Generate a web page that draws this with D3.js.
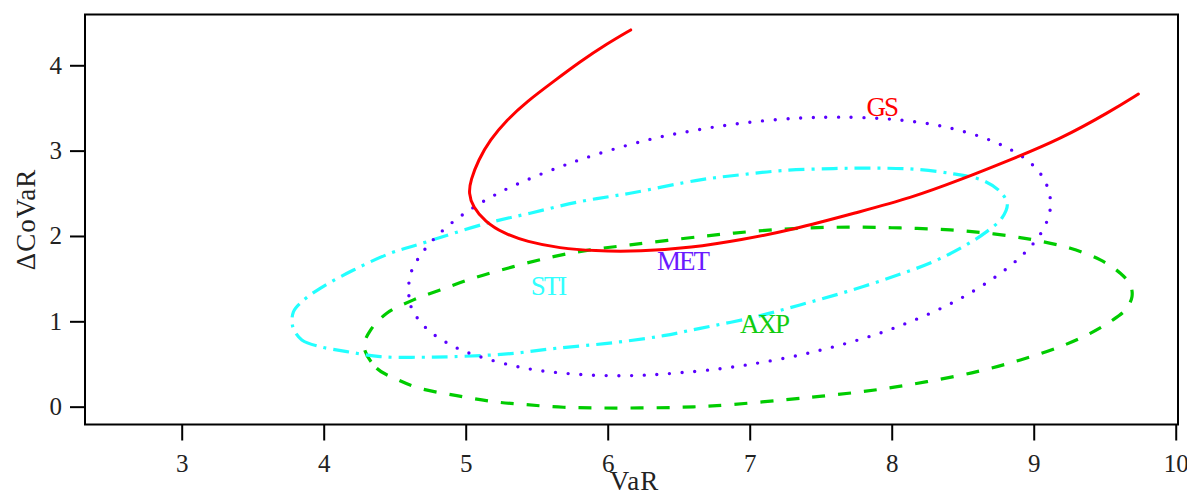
<!DOCTYPE html>
<html lang="en">
<head>
	<meta charset="utf-8">
	<title>VaR vs Delta CoVaR</title>
	<script type="text/javascript" src="https://cdn.jsdelivr.net/npm/d3@7/dist/d3.min.js" charset="utf-8"></script>
	<style type="text/css">
		body { margin: 0; background: #fff; }
		.axis path,
		.axis line {
		    fill: none;
		    stroke: black;
		    stroke-width: 2px;
		}
		.axis text {
		    font-family: "Liberation Serif", "DejaVu Serif", serif;
		    font-size: 25px;
		    fill: #222;
		}
		.title {
		    font-family: "Liberation Serif", "DejaVu Serif", serif;
		    font-size: 27px;
		    fill: #222;
		}
		.curve_label {
		    font-family: "Liberation Serif", "DejaVu Serif", serif;
		    font-size: 27px;
		    letter-spacing: -2px;
		}
	</style>
</head>
<body>
<script type="text/javascript">

// Tick values
var xTicks = [3, 4, 5, 6, 7, 8, 9, 10];
var yTicks = [0, 1, 2, 3, 4];

// GS: open curve (VaR, dCoVaR)
var gsVaR   = [6.162, 5.993, 5.805, 5.617, 5.430, 5.289, 5.171, 5.089, 5.035, 5.020, 5.050, 5.136,
               5.265, 5.430, 5.664, 5.899, 6.228, 6.590, 6.940, 7.300, 7.777, 8.129, 8.481, 8.833,
               9.185, 9.537, 9.737];
var gsCoVaR = [4.414, 4.250, 4.042, 3.808, 3.574, 3.359, 3.125, 2.890, 2.656, 2.500, 2.343, 2.168,
               2.032, 1.933, 1.856, 1.824, 1.818, 1.862, 1.955, 2.070, 2.285, 2.442, 2.656, 2.890,
               3.133, 3.456, 3.664];

// MET: closed contour
var metVaR   = [4.600, 4.615, 4.718, 4.866, 5.030, 5.387, 5.753, 6.121, 6.485, 6.943, 7.483, 8.011,
                8.516, 8.891, 9.067, 9.119, 9.072, 8.951, 8.711, 8.364, 7.993, 7.624, 7.342, 6.979,
                6.627, 6.262, 5.734, 5.229, 4.912, 4.718, 4.620];
var metCoVaR = [1.446, 1.172, 0.926, 0.750, 0.625, 0.461, 0.383, 0.363, 0.394, 0.480, 0.656, 0.918,
                1.297, 1.731, 2.078, 2.375, 2.665, 2.891, 3.110, 3.282, 3.368, 3.392, 3.380, 3.329,
                3.242, 3.117, 2.852, 2.501, 2.167, 1.856, 1.594];

// STI: closed contour
var stiVaR   = [3.782, 3.846, 3.975, 4.163, 4.398, 4.679, 4.914, 5.290, 5.642, 6.041, 6.393, 6.651,
                7.027, 7.354, 7.683, 8.011, 8.293, 8.504, 8.669, 8.775, 8.814, 8.763, 8.645, 8.434,
                8.152, 7.870, 7.589, 7.237, 6.931, 6.651, 6.158, 5.806, 5.454, 5.149, 4.679, 4.468,
                4.210, 3.975, 3.846, 3.787];
var stiCoVaR = [0.937, 0.782, 0.703, 0.645, 0.586, 0.579, 0.586, 0.618, 0.685, 0.750, 0.832, 0.918,
                1.047, 1.192, 1.348, 1.524, 1.699, 1.875, 2.051, 2.208, 2.376, 2.520, 2.649, 2.728,
                2.783, 2.795, 2.790, 2.767, 2.716, 2.658, 2.501, 2.403, 2.267, 2.149, 1.907, 1.797,
                1.601, 1.387, 1.230, 1.112];

// AXP: closed contour
var axpVaR   = [4.284, 4.373, 4.514, 4.678, 4.937, 5.195, 5.430, 5.688, 5.946, 6.228, 6.510, 6.768,
                7.238, 7.590, 7.919, 8.248, 8.600, 8.906, 9.187, 9.398, 9.539, 9.645, 9.692, 9.680,
                9.610, 9.469, 9.258, 8.999, 8.718, 8.412, 8.060, 7.708, 7.356, 7.004, 6.651, 6.158,
                5.877, 5.618, 5.336, 5.054, 4.820, 4.632, 4.444, 4.331];
var axpCoVaR = [0.703, 0.450, 0.321, 0.215, 0.129, 0.059, 0.023, -0.007, -0.015, -0.015, -0.007, 0.012,
                0.079, 0.137, 0.204, 0.293, 0.410, 0.547, 0.703, 0.859, 0.996, 1.133, 1.289, 1.426,
                1.563, 1.719, 1.856, 1.954, 2.024, 2.071, 2.094, 2.103, 2.091, 2.051, 1.993, 1.895,
                1.837, 1.758, 1.641, 1.505, 1.368, 1.251, 1.094, 0.899];

// Curve label names and anchor positions (data units)
var labelNames = ["GS", "MET", "STI", "AXP"];
var labelVaR   = [7.93, 6.527, 5.58, 7.10];
var labelCoVaR = [3.41, 1.60, 1.31, 0.86];

//Width and height
var outer_width = 1187;
var outer_height = 495;
var plot = {left: 85, right: 1178, top: 14.5, bottom: 424.5};

var svg = d3.select("body")
		.append("svg")
		.attr("width", outer_width)
		.attr("height", outer_height);

var xScale = d3.scaleLinear()
		.domain([2.319, 10.016])
		.range([plot.left, plot.right]);

var yScale = d3.scaleLinear()
		.domain([-0.209, 4.595])
		.range([plot.bottom, plot.top]);

function zipPoints(xs, ys) {
	return xs.map(function(v, i) { return [v, ys[i]]; });
}

var series = [
	{name: "AXP", pts: zipPoints(axpVaR, axpCoVaR), closed: true, color: "#00cc00", width: 3.2, dash: "13,13", cap: "butt"},
	{name: "STI", pts: zipPoints(stiVaR, stiCoVaR), closed: true, color: "#22ffff", width: 3.2, dash: "16,7,3,7", cap: "butt"},
	{name: "MET", pts: zipPoints(metVaR, metCoVaR), closed: true, color: "#5a00ff", width: 3.4, dash: "0,12.7", cap: "round"},
	{name: "GS",  pts: zipPoints(gsVaR, gsCoVaR), closed: false, color: "#ff0000", width: 3, dash: null, cap: "round"}
];

var labelColors = {GS: "#ff0000", MET: "#6a1aff", STI: "#33ffff", AXP: "#11cc11"};

// Clip to the plot box
svg.append("clipPath")
	.attr("id", "plotclip")
	.append("rect")
	.attr("x", plot.left)
	.attr("y", plot.top)
	.attr("width", plot.right - plot.left)
	.attr("height", plot.bottom - plot.top);

// smooth open curve (GS), smooth closed contours for the rest
var lineOpen = d3.line()
		.x(function(d) { return xScale(d[0]); })
		.y(function(d) { return yScale(d[1]); })
		.curve(d3.curveBasis);

var lineClosed = d3.line()
		.x(function(d) { return xScale(d[0]); })
		.y(function(d) { return yScale(d[1]); })
		.curve(d3.curveCatmullRomClosed);

svg.append("g")
	.attr("clip-path", "url(#plotclip)")
	.selectAll("path")
	.data(series)
	.enter()
	.append("path")
	.attr("d", function(d) { return d.closed ? lineClosed(d.pts) : lineOpen(d.pts); })
	.attr("fill", "none")
	.attr("stroke", function(d) { return d.color; })
	.attr("stroke-width", function(d) { return d.width; })
	.attr("stroke-linecap", function(d) { return d.cap; })
	.attr("stroke-linejoin", "round")
	.attr("stroke-dasharray", function(d) { return d.dash; });

// Curve labels
svg.selectAll("text.curve_label")
	.data(labelNames)
	.enter()
	.append("text")
	.attr("class", "curve_label")
	.attr("text-anchor", "middle")
	.attr("x", function(d, i) { return xScale(labelVaR[i]); })
	.attr("y", function(d, i) { return yScale(labelCoVaR[i]); })
	.attr("fill", function(d) { return labelColors[d]; })
	.text(function(d) { return d; });

// Axes
var xAxis = d3.axisBottom(xScale)
		.tickValues(xTicks)
		.tickSize(16)
		.tickPadding(14)
		.tickFormat(d3.format("d"));

var yAxis = d3.axisLeft(yScale)
		.tickValues(yTicks)
		.tickSize(15)
		.tickPadding(8)
		.tickFormat(d3.format("d"));

svg.append("g")
	.attr("class", "axis")
	.attr("transform", "translate(0," + plot.bottom + ")")
	.call(xAxis)
	.call(function(g) { g.select(".domain").remove(); });

svg.append("g")
	.attr("class", "axis")
	.attr("transform", "translate(" + plot.left + ",0)")
	.call(yAxis)
	.call(function(g) { g.select(".domain").remove(); });

// Frame round the plot
svg.append("rect")
	.attr("x", plot.left)
	.attr("y", plot.top)
	.attr("width", plot.right - plot.left)
	.attr("height", plot.bottom - plot.top)
	.attr("fill", "none")
	.attr("stroke", "black")
	.attr("stroke-width", 2);

// Axis titles
svg.append("text")
	.attr("class", "title")
	.attr("text-anchor", "middle")
	.attr("letter-spacing", "1px")
	.attr("x", (plot.left + plot.right) / 2 + 3)
	.attr("y", 490)
	.text("VaR");

svg.append("text")
	.attr("class", "title")
	.attr("text-anchor", "middle")
	.attr("letter-spacing", "1px")
	.attr("transform", "translate(35," + ((plot.top + plot.bottom) / 2) + ")rotate(-90)")
	.text("\u0394CoVaR");

</script>
</body>
</html>
